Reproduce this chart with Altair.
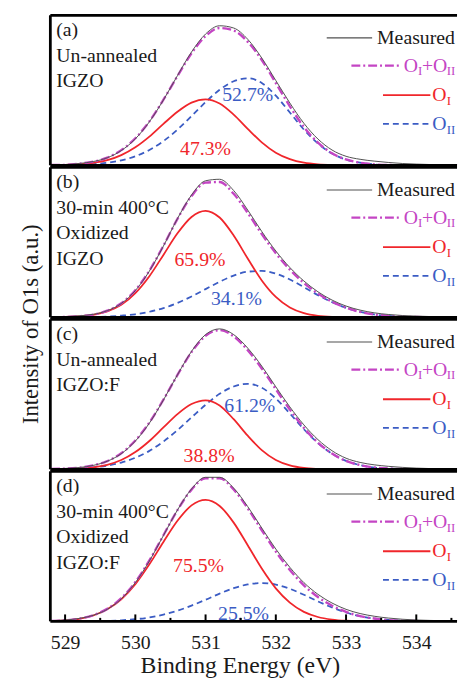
import altair as alt
import pandas as pd

FONT = "Liberation Serif"
W, H = 412, 152
XMIN, XMAX = 528.79, 534.58

C_MEAS = "#505050"
C_FIT = "#c445c4"
C_OI = "#f0262b"
C_OII = "#3b5cc4"
C_TXT = "#1a1a1a"

energy = [528.8, 529.0, 529.2, 529.4, 529.6, 529.8, 530.0, 530.2, 530.4, 530.6,
          530.8, 531.0, 531.2, 531.4, 531.6, 531.8, 532.0, 532.2, 532.4, 532.6,
          532.8, 533.0, 533.2, 533.4, 533.6, 533.8, 534.0, 534.2, 534.4, 534.6]

# (a) Un-annealed IGZO
meas_a = [0.3, 0.5, 1.2, 2.5, 5.0, 9.8, 17.6, 29.0, 43.5, 59.8, 75.5, 87.5, 93.0, 91.5, 84.0,
          71.5, 56.5, 41.5, 28.0, 17.5, 10.2, 6.0, 4.0, 2.8, 1.9, 1.2, 0.8, 0.5, 0.3, 0.2]
fit_a = [0.2, 0.3, 1.1, 2.4, 5.1, 10.1, 18.0, 29.3, 43.7, 59.5, 74.6, 86.1, 91.5, 89.8, 82.3,
         70.2, 54.8, 39.3, 25.5, 15.1, 8.0, 3.9, 1.7, 0.6, 0.2, 0.1, 0, 0, 0, 0]
oi_a = [0.1, 0.2, 0.7, 1.6, 3.4, 6.8, 12.0, 19.1, 27.6, 35.7, 41.8, 44.0, 41.2, 33.8, 24.3,
        15.3, 8.4, 4.1, 1.7, 0.6, 0.2, 0.1, 0, 0, 0, 0, 0, 0, 0, 0]
oii_a = [0.1, 0.1, 0.4, 0.8, 1.7, 3.3, 6.0, 10.2, 16.1, 23.8, 32.8, 42.1, 50.3, 56.0, 58.0,
         54.9, 46.4, 35.2, 23.8, 14.5, 7.8, 3.8, 1.7, 0.6, 0.2, 0.1, 0, 0, 0, 0]

# (b) 30-min 400C oxidized IGZO
meas_b = [0.3, 0.5, 1.0, 2.0, 4.4, 9.2, 17.8, 30.8, 47.5, 65.8, 81.5, 91.0, 92.0, 84.5, 71.5,
          57.2, 44.2, 33.2, 24.2, 17.0, 11.5, 7.5, 4.8, 3.0, 1.9, 1.2, 0.8, 0.5, 0.3, 0.2]
fit_b = [0.1, 0.2, 0.7, 1.8, 4.4, 9.4, 18.1, 31.1, 47.7, 65.6, 80.8, 89.8, 90.2, 82.3, 69.6,
         55.5, 42.7, 31.8, 22.9, 15.8, 10.4, 6.4, 3.6, 1.9, 0.9, 0.4, 0.2, 0.1, 0, 0]
oi_b = [0.1, 0.2, 0.6, 1.6, 3.9, 8.3, 16.1, 27.4, 41.6, 56.0, 66.9, 71.0, 66.5, 54.5, 39.2,
        24.6, 13.6, 6.6, 2.8, 1.0, 0.3, 0.1, 0, 0, 0, 0, 0, 0, 0, 0]
oii_b = [0, 0, 0.1, 0.2, 0.5, 1.1, 2.0, 3.7, 6.1, 9.6, 13.9, 18.8, 23.7, 27.8, 30.4,
         30.9, 29.1, 25.2, 20.1, 14.8, 10.1, 6.3, 3.6, 1.9, 0.9, 0.4, 0.2, 0.1, 0, 0]

# (c) Un-annealed IGZO:F
meas_c = [0.3, 0.6, 1.2, 2.6, 5.4, 10.4, 18.8, 30.8, 46.2, 63.0, 78.6, 89.8, 93.6, 89.8, 80.8,
          68.8, 55.0, 41.6, 29.6, 19.8, 12.4, 7.4, 4.6, 3.0, 2.0, 1.3, 0.8, 0.5, 0.3, 0.2]
fit_c = [0.2, 0.5, 1.1, 2.6, 5.5, 10.7, 19.2, 31.2, 46.4, 62.9, 78.1, 89.0, 92.8, 88.6, 79.4,
         67.2, 53.4, 39.8, 27.6, 17.8, 10.5, 5.6, 2.8, 1.2, 0.5, 0.2, 0.1, 0, 0, 0]
oi_c = [0.1, 0.2, 0.5, 1.3, 3.0, 6.2, 11.5, 18.9, 27.9, 36.8, 43.5, 46.0, 42.5, 33.4, 22.4,
        12.8, 6.2, 2.6, 0.9, 0.3, 0.1, 0, 0, 0, 0, 0, 0, 0, 0, 0]
oii_c = [0.1, 0.3, 0.6, 1.3, 2.5, 4.5, 7.7, 12.3, 18.5, 26.1, 34.6, 43.0, 50.3, 55.2, 57.0,
         54.4, 47.2, 37.2, 26.7, 17.5, 10.4, 5.6, 2.8, 1.2, 0.5, 0.2, 0.1, 0, 0, 0]

# (d) 30-min 400C oxidized IGZO:F
meas_d = [0.5, 0.9, 1.9, 4.0, 8.0, 15.0, 25.8, 40.2, 57.2, 74.2, 88.2, 96.0, 96.0, 88.8, 76.5,
          62.2, 48.2, 36.0, 25.8, 18.0, 12.2, 8.0, 5.2, 3.4, 2.2, 1.4, 0.9, 0.6, 0.4, 0.3]
fit_d = [0.3, 0.7, 1.8, 4.1, 8.3, 15.4, 26.2, 40.6, 57.4, 74.1, 87.8, 95.4, 95.4, 87.9, 75.3,
         60.7, 46.5, 34.2, 24.0, 16.2, 10.4, 6.3, 3.5, 1.9, 0.9, 0.4, 0.2, 0.1, 0, 0]
oi_d = [0.3, 0.7, 1.7, 3.9, 8.0, 14.7, 24.8, 38.0, 52.9, 67.0, 77.3, 81.0, 76.9, 65.8, 50.7,
        35.2, 22.0, 12.5, 6.3, 2.9, 1.2, 0.4, 0.1, 0, 0, 0, 0, 0, 0, 0]
oii_d = [0, 0, 0.1, 0.2, 0.3, 0.7, 1.4, 2.6, 4.5, 7.1, 10.5, 14.4, 18.5, 22.1, 24.6,
         25.5, 24.5, 21.7, 17.7, 13.3, 9.2, 5.9, 3.4, 1.9, 0.9, 0.4, 0.2, 0.1, 0, 0]

panel_tags = ["(a)\nUn-annealed\nIGZO",
              "(b)\n30-min 400°C\nOxidized\nIGZO",
              "(c)\nUn-annealed\nIGZO:F",
              "(d)\n30-min 400°C\nOxidized\nIGZO:F"]
pct_oi = ["47.3%", "65.9%", "38.8%", "75.5%"]
pct_oi_x = [531.0, 530.92, 531.05, 530.9]
pct_oi_y = [11, 38, 9, 37]
pct_oii = ["52.7%", "34.1%", "61.2%", "25.5%"]
pct_oii_x = [531.6, 531.44, 531.63, 531.54]
pct_oii_y = [47, 12, 42, 5]

major_ticks = [529, 530, 531, 532, 533, 534]
minor_ticks = [529.5, 530.5, 531.5, 532.5, 533.5, 534.5]

measured = [meas_a, meas_b, meas_c, meas_d]
fits = [fit_a, fit_b, fit_c, fit_d]
ois = [oi_a, oi_b, oi_c, oi_d]
oiis = [oii_a, oii_b, oii_c, oii_d]

x_scale = alt.Scale(domain=[XMIN, XMAX], nice=False, zero=False)
y_scale = alt.Scale(domain=[0, 100], nice=False, zero=False)

bottom_axis = alt.Axis(values=major_ticks, ticks=False, domain=False, grid=False,
                       labelFont=FONT, labelFontSize=20, labelColor=C_TXT, labelPadding=12,
                       labelFlush=False, format="d",
                       title="Binding Energy (eV)", titleFont=FONT, titleFontSize=24,
                       titleFontWeight="normal", titleColor=C_TXT,
                       titleX=192, titleY=45, titleAlign="center", titleBaseline="middle")

one = pd.DataFrame({"k": [0]})


def xenc(bottom):
    if bottom:
        return alt.X("energy:Q", scale=x_scale, axis=bottom_axis)
    return alt.X("energy:Q", scale=x_scale, axis=None)


def yenc():
    return alt.Y("intensity:Q", scale=y_scale, axis=None)


def curve(vals, color, width, bottom, dash=None):
    df = pd.DataFrame({"energy": energy, "intensity": vals})
    kw = dict(color=color, strokeWidth=width, interpolate="monotone", clip=True)
    if dash:
        kw["strokeDash"] = dash
    return alt.Chart(df).mark_line(**kw).encode(x=xenc(bottom), y=yenc())


def prule(x1, x2, y1, y2, color="black", width=2.8, dash=None):
    kw = dict(color=color, strokeWidth=width)
    if dash:
        kw["strokeDash"] = dash
    return alt.Chart(one).mark_rule(**kw).encode(
        x=alt.value(x1), x2=alt.value(x2), y=alt.value(y1), y2=alt.value(y2))


def ptext(t, x, y, size, color, **kw):
    return alt.Chart(one).mark_text(text=t, font=FONT, fontSize=size, color=color,
                                    align="left", baseline="middle", clip=True, **kw).encode(
        x=alt.value(x), y=alt.value(y))


def legend_layers():
    r = [23, 51, 81, 110]
    return [
        prule(280, 326, r[0], r[0], C_MEAS, 1.2),
        ptext("Measured", 331, r[0], 20, C_TXT),
        prule(305, 356, r[1], r[1], C_FIT, 2.2, [9, 3, 2, 3]),
        ptext("O", 358, r[1], 20, C_FIT),
        ptext("I", 372.5, r[1] + 6, 13, C_FIT),
        ptext("+O", 376.5, r[1], 20, C_FIT),
        ptext("II", 401.5, r[1] + 6, 13, C_FIT),
        prule(337, 385, r[2], r[2], C_OI, 1.8),
        ptext("O", 387, r[2], 20, C_OI),
        ptext("I", 401.5, r[2] + 6, 13, C_OI),
        prule(337, 385, r[3], r[3], C_OII, 1.8, [6, 4]),
        ptext("O", 387, r[3], 20, C_OII),
        ptext("II", 401.5, r[3] + 6, 13, C_OII),
    ]


def pct_layer(t, x, y, color, bottom):
    df = pd.DataFrame({"energy": [x], "intensity": [y], "t": [t]})
    return alt.Chart(df).mark_text(font=FONT, fontSize=20, color=color,
                                   align="center", baseline="middle").encode(
        x=xenc(bottom), y=yenc(), text="t:N")


panels = []
for i in range(4):
    bottom = i == 3
    layers = [
        curve(oiis[i], C_OII, 1.8, bottom, [6, 4]),
        curve(ois[i], C_OI, 1.8, bottom),
        curve(fits[i], C_FIT, 2.4, bottom, [9, 3, 2, 3]),
        curve(measured[i], C_MEAS, 1.0, bottom),
        pct_layer(pct_oi[i], pct_oi_x[i], pct_oi_y[i], C_OI, bottom),
        pct_layer(pct_oii[i], pct_oii_x[i], pct_oii_y[i], C_OII, bottom),
        alt.Chart(one).mark_text(text=panel_tags[i], font=FONT, fontSize=20, color=C_TXT,
                                 align="left", baseline="top", lineBreak="\n",
                                 lineHeight=26).encode(x=alt.value(6), y=alt.value(5)),
    ]
    layers += legend_layers()
    if bottom:
        tdf = pd.DataFrame({"energy": major_ticks})
        mdf = pd.DataFrame({"energy": minor_ticks})
        layers.append(alt.Chart(tdf).mark_rule(color="black", strokeWidth=2).encode(
            x=xenc(True), y=alt.value(H), y2=alt.value(H - 7)))
        layers.append(alt.Chart(mdf).mark_rule(color="black", strokeWidth=2).encode(
            x=xenc(True), y=alt.value(H), y2=alt.value(H - 3.5)))
    if i == 1:
        layers.append(alt.Chart(one).mark_text(
            text="Intensity of O1s (a.u.)", font=FONT, fontSize=23, color=C_TXT,
            angle=270, align="center", baseline="middle").encode(
            x=alt.value(-20), y=alt.value(159)))
    # frame: top, bottom, left
    layers.append(prule(0, W, 0, 0))
    layers.append(prule(0, W, H, H))
    layers.append(prule(0, 0, 0, H))
    panels.append(alt.layer(*layers).properties(width=W, height=H))

chart = alt.vconcat(*panels, spacing=2, bounds="flush").properties(
    padding={"left": 19, "top": 9, "right": 0, "bottom": 0}
).configure_view(strokeWidth=0)

chart.save("out.html", embed_options={"renderer": "svg", "actions": False})
